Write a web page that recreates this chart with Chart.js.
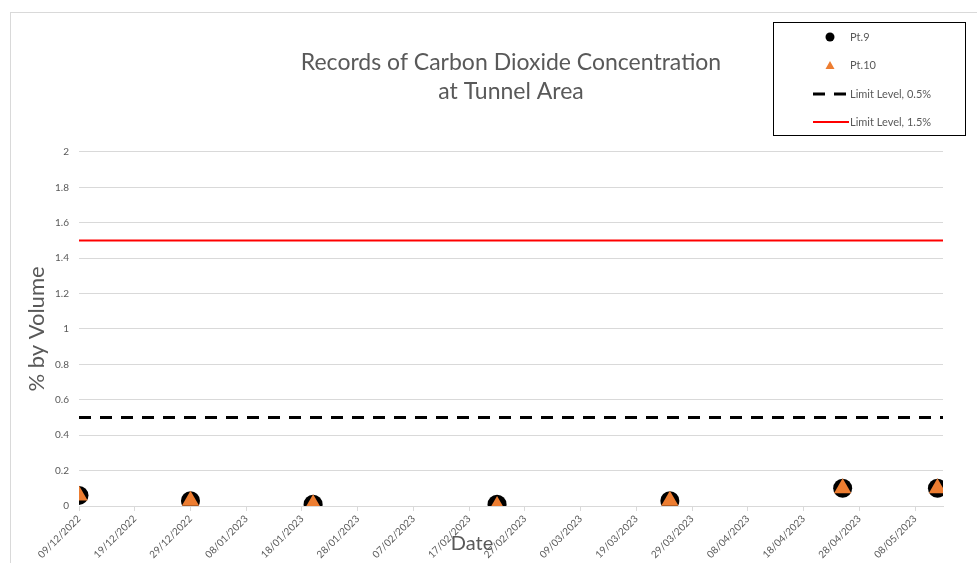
<!DOCTYPE html>
<html>
<head>
<meta charset="utf-8">
<script src="https://cdn.jsdelivr.net/npm/chart.js@4"></script>
<style>
  html, body { margin: 0; padding: 0; background: #fff; }
  #wrap { width: 977px; height: 563px; }
</style>
</head>
<body>
<div id="wrap"><canvas id="co2Chart" width="977" height="563"></canvas></div>
<script>
// sampling dates (dd/mm/yyyy)
const dates = ['09/12/2022', '29/12/2022', '20/01/2023', '22/02/2023', '25/03/2023', '25/04/2023', '12/05/2023'];
const pt9 = [0.06, 0.03, 0.01, 0.01, 0.03, 0.1, 0.1];
const pt10 = [0.06, 0.03, 0.01, 0.0, 0.03, 0.1, 0.1];
const axisStart = '09/12/2022';
const axisEnd = '13/05/2023';
const limitLow = 0.5;
const limitHigh = 1.5;

const dayOf = s => {
  const [d, m, y] = s.split('/').map(Number);
  return Date.UTC(y, m - 1, d) / 86400000;
};
const fmt = v => {
  const t = new Date(v * 86400000);
  const dd = String(t.getUTCDate()).padStart(2, '0');
  const mm = String(t.getUTCMonth() + 1).padStart(2, '0');
  return dd + '/' + mm + '/' + t.getUTCFullYear();
};
const xMin = dayOf(axisStart), xMax = dayOf(axisEnd);
const pts = vals => dates.map((d, i) => ({ x: dayOf(d), y: vals[i] }));

const grey = '#595959';
const font = 'Lato, "Open Sans", sans-serif';

// frame, "Date" label and legend box drawn like the Excel chart
const excelBits = {
  id: 'excelBits',
  beforeDraw(chart) {
    const c = chart.ctx;
    c.save();
    c.fillStyle = '#fff';
    c.fillRect(0, 0, chart.width, chart.height);
    c.strokeStyle = '#d9d9d9';
    c.lineWidth = 1;
    c.strokeRect(10.5, 12.5, 1000, 600);
    c.restore();
  },
  afterDraw(chart) {
    const c = chart.ctx;
    c.save();
    // x axis title sits over the tick labels in the original
    c.font = '20px ' + font;
    c.fillStyle = grey;
    c.textAlign = 'center';
    c.textBaseline = 'middle';
    c.fillText('Date', 472, 544);

    c.textAlign = 'left';
    c.fillStyle = '#fff';
    c.fillRect(773, 22, 192, 113);
    c.strokeStyle = '#000';
    c.lineWidth = 1;
    c.strokeRect(773.5, 22.5, 192, 113);
    c.font = '11px ' + font;
    c.fillStyle = grey;
    c.fillText('Pt.9', 850, 37);
    c.fillText('Pt.10', 850, 65);
    c.fillText('Limit Level, 0.5%', 850, 94);
    c.fillText('Limit Level, 1.5%', 850, 122);
    // markers
    c.fillStyle = '#000';
    c.beginPath(); c.arc(830, 37, 4.5, 0, Math.PI * 2); c.fill();
    c.fillStyle = '#ED7D31';
    c.beginPath(); c.moveTo(830, 61); c.lineTo(834.5, 69); c.lineTo(825.5, 69); c.closePath(); c.fill();
    c.strokeStyle = '#000';
    c.lineWidth = 3;
    c.setLineDash([12, 9]);
    c.beginPath(); c.moveTo(813, 94); c.lineTo(849, 94); c.stroke();
    c.setLineDash([]);
    c.strokeStyle = '#FF0000';
    c.lineWidth = 2;
    c.beginPath(); c.moveTo(813, 122); c.lineTo(849, 122); c.stroke();
    c.restore();
  }
};

new Chart(document.getElementById('co2Chart').getContext('2d'), {
  type: 'scatter',
  data: {
    datasets: [
      {
        label: 'Pt.10',
        data: pts(pt10),
        pointStyle: 'triangle',
        pointRadius: 10,
        backgroundColor: '#ED7D31',
        borderColor: '#ED7D31',
        borderWidth: 0,
        order: 0
      },
      {
        label: 'Pt.9',
        data: pts(pt9),
        pointStyle: 'circle',
        pointRadius: 9.5,
        backgroundColor: '#000',
        borderColor: '#000',
        borderWidth: 0,
        order: 1
      },
      {
        label: 'Limit Level, 0.5%',
        data: [{ x: xMin, y: limitLow }, { x: xMax, y: limitLow }],
        showLine: true,
        pointRadius: 0,
        borderColor: '#000',
        borderWidth: 3,
        borderDash: [12, 9],
        order: 2
      },
      {
        label: 'Limit Level, 1.5%',
        data: [{ x: xMin, y: limitHigh }, { x: xMax, y: limitHigh }],
        showLine: true,
        pointRadius: 0,
        borderColor: '#FF0000',
        borderWidth: 2,
        order: 3
      }
    ]
  },
  options: {
    responsive: false,
    animation: false,
    layout: { padding: { left: 0, right: 34, top: 0, bottom: 0 } },
    plugins: {
      legend: { display: false },
      tooltip: { enabled: false },
      title: {
        display: true,
        fullSize: false,
        text: ['Records of Carbon Dioxide Concentration', 'at Tunnel Area'],
        color: grey,
        font: { family: font, size: 23, weight: 'normal', lineHeight: 1.26 },
        padding: { top: 48, bottom: 46 }
      }
    },
    scales: {
      x: {
        type: 'linear',
        min: xMin,
        max: xMax,
        afterBuildTicks: s => {
          const t = [];
          for (let v = xMin; v <= xMax; v += 10) t.push({ value: v });
          s.ticks = t;
        },
        afterFit: s => { s.height = 57; },
        grid: { display: true, drawOnChartArea: false, tickLength: 5, color: '#d9d9d9' },
        border: { color: '#d9d9d9' },
        ticks: {
          autoSkip: false,
          minRotation: 45,
          maxRotation: 45,
          color: grey,
          font: { family: font, size: 10 },
          padding: 2,
          callback: v => fmt(v)
        }
      },
      y: {
        min: 0,
        max: 2,
        afterFit: s => { s.width = 79; },
        grid: { color: '#d9d9d9', drawTicks: false },
        border: { display: false },
        ticks: {
          stepSize: 0.2,
          color: grey,
          font: { family: font, size: 10 },
          padding: 10,
          callback: v => Math.round(v * 10) / 10
        },
        title: {
          display: true,
          text: '% by Volume',
          color: grey,
          font: { family: font, size: 22 },
          padding: { top: 24, bottom: 0 }
        }
      }
    }
  },
  plugins: [excelBits]
});
</script>
</body>
</html>
